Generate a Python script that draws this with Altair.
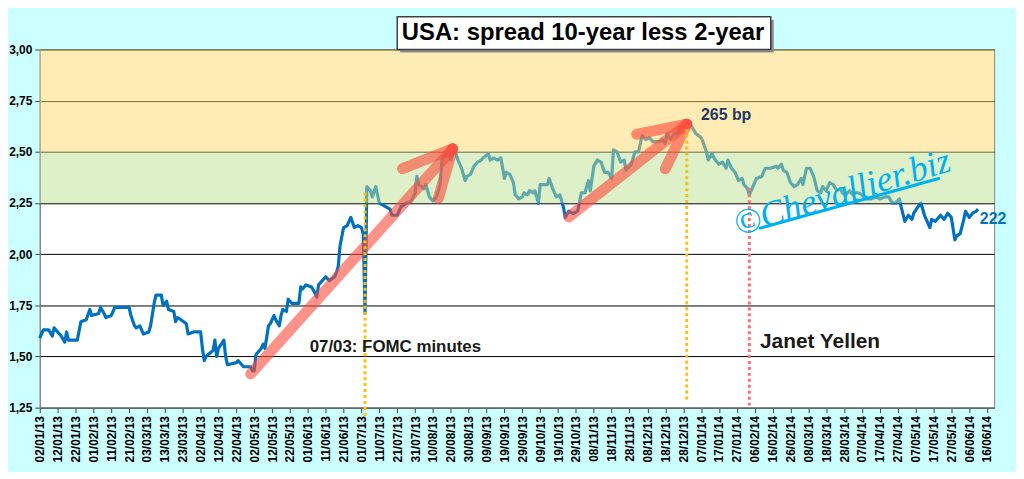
import altair as alt
import pandas as pd

# -----------------------------
# DATA
# -----------------------------
days_2013 = [
    "2013-01-02", "2013-01-04", "2013-01-07", "2013-01-09", "2013-01-10", "2013-01-14",
    "2013-01-16", "2013-01-17", "2013-01-18", "2013-01-23", "2013-01-25", "2013-01-28",
    "2013-01-30", "2013-01-31", "2013-02-04", "2013-02-05", "2013-02-07", "2013-02-08",
    "2013-02-11", "2013-02-13", "2013-02-21", "2013-02-22", "2013-02-24", "2013-02-25",
    "2013-02-27", "2013-03-01", "2013-03-04", "2013-03-05", "2013-03-07", "2013-03-08",
    "2013-03-11", "2013-03-12", "2013-03-14", "2013-03-15", "2013-03-18", "2013-03-19",
    "2013-03-20", "2013-03-22", "2013-03-25", "2013-03-26", "2013-03-29", "2013-04-02",
    "2013-04-03", "2013-04-04", "2013-04-05", "2013-04-09", "2013-04-10", "2013-04-11",
    "2013-04-12", "2013-04-15", "2013-04-16", "2013-04-17", "2013-04-22", "2013-04-23",
    "2013-04-25", "2013-04-26", "2013-04-30", "2013-05-01", "2013-05-02", "2013-05-03",
    "2013-05-06", "2013-05-07", "2013-05-08", "2013-05-10", "2013-05-11", "2013-05-13",
    "2013-05-14", "2013-05-16", "2013-05-17", "2013-05-18", "2013-05-20", "2013-05-21",
    "2013-05-23", "2013-05-27", "2013-05-28", "2013-05-29", "2013-05-31", "2013-06-03",
    "2013-06-05", "2013-06-06", "2013-06-07", "2013-06-11", "2013-06-13", "2013-06-16",
    "2013-06-17", "2013-06-18", "2013-06-19", "2013-06-21", "2013-06-23", "2013-06-25",
    "2013-06-27", "2013-06-29", "2013-07-01", "2013-07-02", "2013-07-03", "2013-07-04",
    "2013-07-06", "2013-07-07", "2013-07-09", "2013-07-11", "2013-07-13", "2013-07-17",
    "2013-07-18", "2013-07-21", "2013-07-23", "2013-07-26", "2013-07-29", "2013-07-31",
    "2013-08-01", "2013-08-02", "2013-08-05", "2013-08-06", "2013-08-08", "2013-08-10",
    "2013-08-12", "2013-08-14", "2013-08-15", "2013-08-17", "2013-08-19", "2013-08-20",
    "2013-08-22", "2013-08-24", "2013-08-26", "2013-08-28", "2013-08-29", "2013-08-31",
    "2013-09-02", "2013-09-04", "2013-09-06", "2013-09-07", "2013-09-10", "2013-09-11",
    "2013-09-13", "2013-09-15", "2013-09-17", "2013-09-18", "2013-09-19", "2013-09-20",
    "2013-09-22", "2013-09-24", "2013-09-25", "2013-09-27", "2013-09-29", "2013-09-30",
    "2013-10-02", "2013-10-03", "2013-10-05", "2013-10-06", "2013-10-08", "2013-10-09",
    "2013-10-13", "2013-10-14", "2013-10-16", "2013-10-18", "2013-10-20", "2013-10-22",
    "2013-10-23", "2013-10-25", "2013-10-27", "2013-10-28", "2013-10-30", "2013-11-01",
    "2013-11-03", "2013-11-05", "2013-11-06", "2013-11-08", "2013-11-10", "2013-11-12",
    "2013-11-14", "2013-11-16", "2013-11-18", "2013-11-19", "2013-11-21", "2013-11-23",
    "2013-11-25", "2013-11-26", "2013-11-29", "2013-12-01", "2013-12-03", "2013-12-05",
    "2013-12-07", "2013-12-09", "2013-12-11", "2013-12-13", "2013-12-15", "2013-12-16",
    "2013-12-18", "2013-12-19", "2013-12-21", "2013-12-23", "2013-12-25", "2013-12-26",
    "2013-12-29", "2013-12-31",
]
spread_2013 = [
    1.59, 1.63, 1.63, 1.60, 1.64, 1.60,
    1.57, 1.62, 1.58, 1.58, 1.67, 1.68,
    1.73, 1.70, 1.71, 1.74, 1.71, 1.69,
    1.70, 1.74, 1.74, 1.70, 1.65, 1.64,
    1.65, 1.61, 1.62, 1.65, 1.76, 1.80,
    1.80, 1.75, 1.77, 1.73, 1.72, 1.67,
    1.69, 1.68, 1.66, 1.61, 1.62, 1.62,
    1.54, 1.48, 1.50, 1.53, 1.58, 1.50,
    1.54, 1.58, 1.50, 1.46, 1.47, 1.48,
    1.46, 1.45, 1.45, 1.43, 1.43, 1.51,
    1.54, 1.56, 1.54, 1.65, 1.66, 1.70,
    1.68, 1.65, 1.70, 1.73, 1.72, 1.78,
    1.76, 1.76, 1.84, 1.83, 1.85, 1.84,
    1.81, 1.79, 1.85, 1.89, 1.87, 1.89,
    1.91, 1.94, 2.04, 2.13, 2.14, 2.18,
    2.13, 2.14, 2.13, 2.10, 1.71, 2.33,
    2.31, 2.28, 2.33, 2.25, 2.24, 2.22,
    2.19, 2.19, 2.23, 2.25, 2.26, 2.30,
    2.38, 2.34, 2.32, 2.34, 2.28, 2.26,
    2.28, 2.34, 2.46, 2.49, 2.52, 2.46,
    2.51, 2.46, 2.42, 2.36, 2.38, 2.39,
    2.43, 2.45, 2.46, 2.47, 2.49, 2.46,
    2.47, 2.46, 2.47, 2.42, 2.37, 2.40,
    2.39, 2.35, 2.29, 2.27, 2.28, 2.30,
    2.29, 2.31, 2.30, 2.31, 2.25, 2.34,
    2.34, 2.37, 2.32, 2.28, 2.29, 2.23,
    2.18, 2.21, 2.20, 2.20, 2.21, 2.30,
    2.30, 2.36, 2.31, 2.43, 2.46, 2.45,
    2.40, 2.40, 2.37, 2.51, 2.50, 2.45,
    2.46, 2.41, 2.44, 2.50, 2.50, 2.58,
    2.56, 2.57, 2.55, 2.55, 2.55, 2.56,
    2.54, 2.59, 2.56, 2.59, 2.59, 2.62,
    2.63, 2.65,
]
days_2014 = [
    "2014-01-02", "2014-01-04", "2014-01-07", "2014-01-08", "2014-01-10", "2014-01-11",
    "2014-01-13", "2014-01-15", "2014-01-17", "2014-01-19", "2014-01-21", "2014-01-22",
    "2014-01-24", "2014-01-26", "2014-01-28", "2014-01-30", "2014-01-31", "2014-02-02",
    "2014-02-03", "2014-02-06", "2014-02-07", "2014-02-10", "2014-02-12", "2014-02-15",
    "2014-02-18", "2014-02-19", "2014-02-21", "2014-02-22", "2014-02-24", "2014-02-26",
    "2014-02-28", "2014-03-02", "2014-03-04", "2014-03-05", "2014-03-07", "2014-03-09",
    "2014-03-11", "2014-03-13", "2014-03-15", "2014-03-16", "2014-03-18", "2014-03-20",
    "2014-03-22", "2014-03-24", "2014-03-26", "2014-03-27", "2014-03-29", "2014-03-31",
    "2014-04-02", "2014-04-03", "2014-04-05", "2014-04-07", "2014-04-09", "2014-04-12",
    "2014-04-15", "2014-04-17", "2014-04-20", "2014-04-22", "2014-04-24", "2014-04-26",
    "2014-04-28", "2014-04-29", "2014-05-01", "2014-05-03", "2014-05-05", "2014-05-06",
    "2014-05-09", "2014-05-10", "2014-05-12", "2014-05-15", "2014-05-16", "2014-05-18",
    "2014-05-20", "2014-05-21", "2014-05-23", "2014-05-25", "2014-05-27", "2014-05-29",
    "2014-05-30", "2014-06-01", "2014-06-03", "2014-06-04", "2014-06-06", "2014-06-08",
    "2014-06-10", "2014-06-11",
]
spread_2014 = [
    2.62, 2.59, 2.57, 2.55, 2.50, 2.46,
    2.49, 2.46, 2.44, 2.45, 2.42, 2.46,
    2.42, 2.40, 2.36, 2.37, 2.34, 2.32,
    2.29, 2.35, 2.37, 2.38, 2.42, 2.42,
    2.43, 2.42, 2.44, 2.41, 2.40, 2.35,
    2.33, 2.34, 2.37, 2.34, 2.42, 2.42,
    2.38, 2.31, 2.30, 2.33, 2.31, 2.35,
    2.34, 2.31, 2.32, 2.30, 2.29, 2.31,
    2.29, 2.30, 2.30, 2.29, 2.27, 2.27,
    2.28, 2.27, 2.28, 2.28, 2.25, 2.25,
    2.27, 2.23, 2.16, 2.19, 2.17, 2.20,
    2.24, 2.25, 2.19, 2.13, 2.17, 2.16,
    2.18, 2.19, 2.17, 2.20, 2.18, 2.07,
    2.09, 2.10, 2.17, 2.21, 2.18, 2.20,
    2.21, 2.22,
]

# x axis ticks: one label every 10 days
tick_days = [
    "2013-01-02", "2013-01-12", "2013-01-22", "2013-02-01", "2013-02-11", "2013-02-21",
    "2013-03-03", "2013-03-13", "2013-03-23", "2013-04-02", "2013-04-12", "2013-04-22",
    "2013-05-02", "2013-05-12", "2013-05-22", "2013-06-01", "2013-06-11", "2013-06-21",
    "2013-07-01", "2013-07-11", "2013-07-21", "2013-07-31", "2013-08-10", "2013-08-20",
    "2013-08-30", "2013-09-09", "2013-09-19", "2013-09-29", "2013-10-09", "2013-10-19",
    "2013-10-29", "2013-11-08", "2013-11-18", "2013-11-28", "2013-12-08", "2013-12-18",
    "2013-12-28", "2014-01-07", "2014-01-17", "2014-01-27", "2014-02-06", "2014-02-16",
    "2014-02-26", "2014-03-08", "2014-03-18", "2014-03-28", "2014-04-07", "2014-04-17",
    "2014-04-27", "2014-05-07", "2014-05-17", "2014-05-27", "2014-06-06", "2014-06-16",
]
y_ticks = [1.25, 1.50, 1.75, 2.00, 2.25, 2.50, 2.75, 3.00]

# shaded zones
band_low = [2.25, 2.50]
band_high = [2.50, 3.00]
band_fill = ["#BBE191", "#FFD769"]

# hand-drawn trend arrows (segments)
arrow_from_day = ["2013-04-30", "2013-07-24", "2013-08-13", "2013-10-25", "2013-12-02", "2013-12-18"]
arrow_from_val = [1.415, 2.418, 2.273, 2.182, 2.586, 2.417]
arrow_to_day = ["2013-08-21", "2013-08-21", "2013-08-21", "2013-12-30", "2013-12-30", "2013-12-30"]
arrow_to_val = [2.515, 2.515, 2.515, 2.635, 2.635, 2.635]

# dotted event markers
event_day = ["2013-07-03", "2013-12-30", "2014-02-03"]
event_low = [1.21, 1.29, 1.26]
event_high = [2.31, 2.61, 2.33]
event_color = ["#FFC000", "#FFC000", "#FF6F6F"]

# text labels
label_text = ["07/03: FOMC minutes", "Janet Yellen", "265 bp", "222"]
label_day = ["2013-06-02", "2014-02-09", "2014-01-07", "2014-06-12"]
label_val = [1.545, 1.572, 2.68, 2.173]
label_color = ["#1a1a1a", "#1a1a1a", "#1F3864", "#0070C0"]
label_size = [17, 21, 16, 16]

title_text = "USA: spread 10-year less 2-year"
x_start, x_end = "2013-01-02", "2014-06-20"


def _ms(day):
    return int(pd.Timestamp(day).value // 10**6)


x_scale = alt.Scale(type="utc", domain=[_ms(x_start), _ms(x_end)])
y_scale = alt.Scale(domain=[1.25, 3.0])

x_axis = alt.Axis(
    values=[_ms(d) for d in tick_days],
    labelExpr="utcFormat(datum.value, '%d/%m/%y')",
    labelAngle=270,
    labelOverlap=False,
    labelFlush=False,
    labelPadding=3,
    tickSize=5,
    grid=False,
    title=None,
)
y_axis = alt.Axis(
    values=y_ticks,
    labelExpr="replace(format(datum.value, '.2f'), '.', ',')",
    grid=True,
    gridColor="black",
    gridWidth=1,
    tickSize=5,
    labelPadding=3,
    title=None,
)


def _x(field):
    return alt.X(field, scale=x_scale, axis=x_axis)


def _y(field):
    return alt.Y(field, scale=y_scale, axis=y_axis)


# -----------------------------
# SERIES
# -----------------------------
spread_df = pd.DataFrame({"day": days_2013 + days_2014, "spread": spread_2013 + spread_2014})

line = alt.Chart(spread_df).mark_line(color="#0070C0", strokeWidth=3.2, strokeJoin="round").encode(
    x=_x("day:T"),
    y=_y("spread:Q"),
)

# -----------------------------
# ZONES (drawn over the line, translucent)
# -----------------------------
band_df = pd.DataFrame({
    "x0": [x_start] * 2, "x1": [x_end] * 2,
    "lo": band_low, "hi": band_high, "fill": band_fill,
})
bands = alt.Chart(band_df).mark_rect(opacity=0.5).encode(
    x=_x("x0:T"), x2="x1:T",
    y=_y("lo:Q"), y2="hi:Q",
    color=alt.Color("fill:N", scale=None),
)

# -----------------------------
# TITLE BOX
# -----------------------------
title_df = pd.DataFrame({
    "x0": ["2013-07-21"], "x1": ["2014-02-15"], "xc": ["2013-11-02"],
    "y0": [3.0], "y1": [3.16], "yc": [3.08], "text": [title_text],
})
shadow = alt.Chart(title_df).mark_rect(
    fill="#8c8c8c", xOffset=3, x2Offset=3, yOffset=3, y2Offset=3
).encode(x=_x("x0:T"), x2="x1:T", y=_y("y0:Q"), y2="y1:Q")
box = alt.Chart(title_df).mark_rect(fill="white", stroke="#404040", strokeWidth=1.5).encode(
    x=_x("x0:T"), x2="x1:T", y=_y("y0:Q"), y2="y1:Q"
)
title = alt.Chart(title_df).mark_text(
    font="Liberation Sans", fontWeight="bold", fontSize=24, color="black",
    align="center", baseline="middle",
).encode(x=_x("xc:T"), y=_y("yc:Q"), text="text:N")

# -----------------------------
# ANNOTATIONS
# -----------------------------
arrow_df = pd.DataFrame({
    "x0": arrow_from_day, "y0": arrow_from_val, "x1": arrow_to_day, "y1": arrow_to_val,
})
arrows = alt.Chart(arrow_df).mark_rule(
    strokeWidth=11, strokeCap="round", color="#FF4A3A", opacity=0.6
).encode(x=_x("x0:T"), x2="x1:T", y=_y("y0:Q"), y2="y1:Q")

event_df = pd.DataFrame({
    "day": event_day, "lo": event_low, "hi": event_high, "color": event_color,
})
events = alt.Chart(event_df).mark_rule(strokeWidth=3, strokeDash=[3, 3]).encode(
    x=_x("day:T"), y=_y("lo:Q"), y2="hi:Q",
    color=alt.Color("color:N", scale=None),
)

mark_df = pd.DataFrame({
    "x0": ["2014-02-09"], "y0": [2.127], "x1": ["2014-05-20"], "y1": [2.370],
    "xc": ["2014-03-27"], "yc": [2.300], "text": ["©Chevallier.biz"],
})
underline = alt.Chart(mark_df).mark_rule(strokeWidth=3, color="#00B0F0", strokeCap="round").encode(
    x=_x("x0:T"), x2="x1:T", y=_y("y0:Q"), y2="y1:Q"
)
watermark = alt.Chart(mark_df).mark_text(
    font="Liberation Serif", fontStyle="italic", fontSize=36, color="#00B0F0",
    angle=343, align="center", baseline="middle",
).encode(x=_x("xc:T"), y=_y("yc:Q"), text="text:N")

label_df = pd.DataFrame({
    "text": label_text, "day": label_day, "val": label_val,
    "color": label_color, "size": label_size,
})
labels = alt.Chart(label_df).mark_text(
    font="Liberation Sans", fontWeight="bold", align="left", baseline="middle"
).encode(
    x=_x("day:T"), y=_y("val:Q"), text="text:N",
    color=alt.Color("color:N", scale=None),
    size=alt.Size("size:Q", scale=None),
)

chart = alt.layer(
    line, bands, shadow, box, title, arrows, events, underline, watermark, labels
).properties(
    width=962,
    height=361,
    autosize=alt.AutoSizeParams(type="none"),
    padding={"left": 32, "top": 40, "right": 22, "bottom": 63},
    background="#CCFFFF",
).configure_view(
    fill="white", stroke="#7f7f7f", strokeWidth=1
).configure_axis(
    labelFont="Liberation Sans", labelFontSize=12, labelFontWeight="bold",
    labelColor="black", tickColor="#404040", domainColor="#7f7f7f",
)

chart.save("out.html", embed_options={"renderer": "svg", "actions": False})
